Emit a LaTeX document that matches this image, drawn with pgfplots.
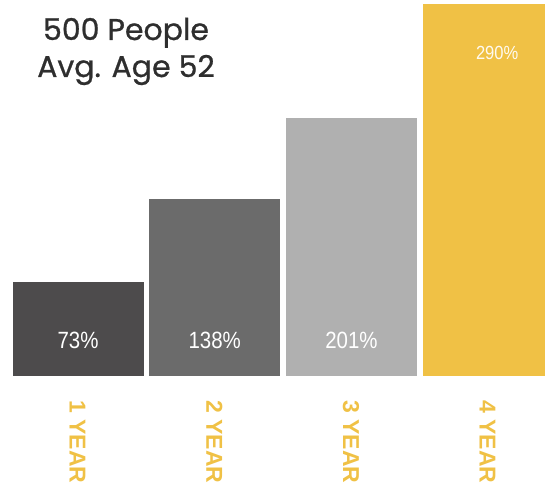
\documentclass[border=0pt]{standalone}
\usepackage{pgfplots}
\pgfplotsset{compat=1.18}
\usepackage{fontspec}
\setmainfont{Liberation Sans}
\newfontfamily\titlefont[FakeBold=0.8]{Poppins}
\newfontfamily\narrowfont[FakeStretch=0.87]{Liberation Sans}
\definecolor{barA}{HTML}{4D4B4C}
\definecolor{barB}{HTML}{6B6B6B}
\definecolor{barC}{HTML}{B0B0B0}
\definecolor{gold}{HTML}{F0C145}
\definecolor{titlegray}{HTML}{2E2E2E}
\tikzset{
  catlab/.style={rotate=-90, anchor=base west, inner sep=0pt, text=gold, font=\bfseries\fontsize{23}{26}\selectfont},
  vallab/.style={anchor=base, text=white, font=\narrowfont\fontsize{23.5}{26}\selectfont},
}
\begin{document}
\begin{tikzpicture}
\clip (0pt,-111pt) rectangle (545pt,376pt);
\fill[white] (0pt,-111pt) rectangle (545pt,376pt);
\begin{axis}[
  at={(0pt,0pt)}, anchor=south west,
  scale only axis, width=545pt, height=376pt,
  xmin=-0.5706, xmax=3.416, ymin=0, ymax=293.1,
  hide axis, clip=false,
  ybar, bar width=131pt, bar shift=0pt,
]
\addplot[fill=barA, draw=none] coordinates {(0,73)};
\addplot[fill=barB, draw=none] coordinates {(1,138)};
\addplot[fill=barC, draw=none] coordinates {(2,201)};
\addplot[fill=gold, draw=none] coordinates {(3,290)};
% value labels
\node[vallab] at ([yshift=28pt]axis cs:0,0) {73\%};
\node[vallab] at ([yshift=28pt]axis cs:1,0) {138\%};
\node[vallab] at ([yshift=28pt]axis cs:2,0) {201\%};
\node[anchor=base, text=white!92!gold, font=\narrowfont\fontsize{19}{22}\selectfont] at ([xshift=9pt,yshift=316pt]axis cs:3,0) {290\%};
% category labels
\node[catlab] at ([xshift=-8.4pt,yshift=-24pt]axis cs:0,0) {1 YEAR};
\node[catlab] at ([xshift=-8.4pt,yshift=-24pt]axis cs:1,0) {2 YEAR};
\node[catlab] at ([xshift=-8.4pt,yshift=-24pt]axis cs:2,0) {3 YEAR};
\node[catlab] at ([xshift=-8.4pt,yshift=-24pt]axis cs:3,0) {4 YEAR};
\end{axis}
% title
\node[anchor=base, text=titlegray, font=\titlefont\fontsize{30}{34}\selectfont] at (126pt,336pt) {500 People};
\node[anchor=base, text=titlegray, font=\titlefont\fontsize{30}{34}\selectfont] at (126pt,299pt) {Avg. Age 52};
\end{tikzpicture}
\end{document}
